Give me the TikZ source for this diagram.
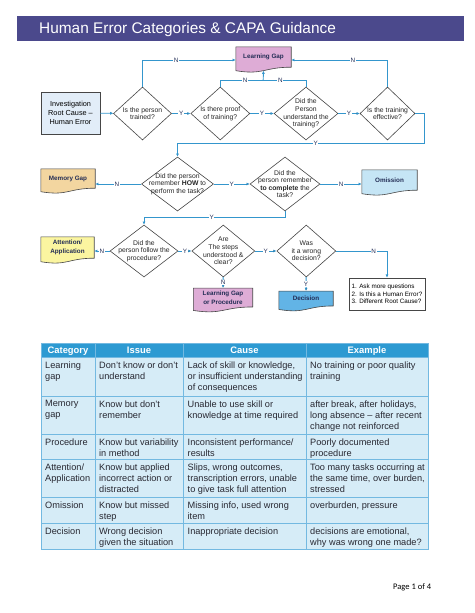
\documentclass[tikz,border=0pt]{standalone}
\usepackage{fontspec}
\setmainfont{Liberation Sans}
\newfontfamily\footfont{Carlito}
\usepackage{tikz}
\usetikzlibrary{arrows.meta,positioning,shapes.geometric,calc}
\pgfdeclarelayer{doclayer}
\pgfsetlayers{doclayer,main}
\definecolor{titlebar}{RGB}{75,73,140}
\definecolor{flowline}{RGB}{52,150,205}
\definecolor{lblnavy}{RGB}{35,45,85}
\definecolor{shapeline}{RGB}{70,70,70}
\definecolor{pinkdoc}{RGB}{222,172,214}
\definecolor{tandoc}{RGB}{243,214,160}
\definecolor{skydoc}{RGB}{197,229,245}
\definecolor{yellowdoc}{RGB}{251,245,160}
\definecolor{bluedoc}{RGB}{98,180,230}
\definecolor{invfill}{RGB}{226,237,248}
\definecolor{headblue}{RGB}{45,154,210}
\definecolor{cellblue}{RGB}{214,236,247}
\definecolor{gridblue}{RGB}{115,185,225}
\definecolor{tabtext}{RGB}{40,40,50}
\tikzstyle{dia}=[diamond,draw=shapeline,fill=white,line width=0.6pt,inner sep=0pt]
\tikzstyle{qtext}=[font=\fontsize{6.8}{7.6}\selectfont,align=center,text=black!85]
\tikzstyle{doc}=[inner sep=0pt,font=\bfseries\fontsize{6.3}{8.8}\selectfont,align=center,text=lblnavy]
\tikzstyle{yn}=[font=\fontsize{6.3}{7}\selectfont,text=lblnavy,fill=white,inner sep=0.6pt]
\tikzstyle{flow}=[draw=flowline,line width=0.9pt,>={Latex[length=3.2pt,width=3pt]}]
\tikzstyle{cell}=[anchor=north west,inner sep=0pt,align=left,text=tabtext,font=\fontsize{9.2}{11}\selectfont,execute at begin node={\rule{0pt}{7pt}}]
\newcommand{\docwave}[2]{%
  \draw[shapeline,line width=0.6pt,fill=#2] (#1.north west) -- (#1.north east) -- (#1.south east)
    .. controls (#1.south) and ([yshift=-8pt]#1.south) .. ([yshift=-3.5pt]#1.south west) -- cycle;}

\begin{document}
\begin{tikzpicture}[x=1pt,y=-1pt]
\useasboundingbox (0,0) rectangle (474,613);
\fill[titlebar] (17,16) rectangle (464,41);
\node[anchor=base west,inner sep=0pt,text=white,font=\fontsize{15.4}{18}\selectfont] (title) at (39,33.3) {Human Error Categories \& CAPA Guidance};

% row 1
\node[draw=shapeline,fill=invfill,line width=0.7pt,minimum width=59pt,minimum height=42pt,inner sep=0pt,align=center,font=\fontsize{7.3}{9}\selectfont] (inv) at (70.5,113) {Investigation\\Root Cause –\\Human Error};
\node[dia,minimum width=58pt,minimum height=53pt,label={[qtext]center:{Is the person\\trained?}}] (d1) at (142.5,113.5) {};
\node[dia,minimum width=59pt,minimum height=53pt,label={[qtext]center:{Is there proof\\of training?}}] (d2) at (220.3,113.5) {};
\node[dia,minimum width=64pt,minimum height=53pt,label={[qtext]center:{Did the\\Person\\understand the\\training?}}] (d3) at (306,113.5) {};
\node[dia,minimum width=55pt,minimum height=53pt,label={[qtext]center:{Is the training\\effective?}}] (d4) at (387.5,113.5) {};
\node[doc,minimum width=55pt,minimum height=20pt] (lgap) at (263.5,57) {Learning Gap};

% row 2
\node[dia,minimum width=72pt,minimum height=54pt,label={[qtext]center:{Did the person\\remember \textbf{HOW} to\\perform the task?}}] (d5) at (177.5,184) {};
\node[dia,minimum width=70pt,minimum height=54pt,label={[qtext]center:{Did the\\person remember\\\textbf{to complete} the\\task?}}] (d6) at (285,184) {};
\node[doc,minimum width=54pt,minimum height=19pt] (memgap) at (68,178.5) {Memory Gap};
\node[doc,minimum width=55pt,minimum height=20pt] (omis) at (389.5,180) {Omission};

% row 3
\node[dia,minimum width=68pt,minimum height=52pt,label={[qtext]center:{Did the\\person follow the\\procedure?}}] (d7) at (144,251) {};
\node[dia,minimum width=63pt,minimum height=52pt,label={[qtext]center:{Are\\The steps\\understood \&\\clear?}}] (d8) at (223.3,251) {};
\node[dia,minimum width=59pt,minimum height=52pt,label={[qtext]center:{Was\\it a wrong\\decision?}}] (d9) at (306.3,251) {};
\node[doc,minimum width=53pt,minimum height=21pt] (attn) at (67.5,247.5) {Attention/\\Application};
\node[doc,minimum width=59pt,minimum height=18.5pt] (lgap2) at (223,297.5) {Learning Gap\\or Procedure};
\node[doc,minimum width=54pt,minimum height=14.5pt] (decis) at (306,298.5) {Decision};
\node[draw=shapeline,fill=white,line width=0.7pt,minimum width=76pt,minimum height=32pt,inner sep=2pt,align=left,font=\fontsize{6.3}{7.5}\selectfont] (qbox) at (387,294) {1. Ask more questions\\2. Is this a Human Error?\\3. Different Root Cause?};

\begin{pgfonlayer}{doclayer}
\docwave{lgap}{pinkdoc}
\docwave{memgap}{tandoc}
\docwave{omis}{skydoc}
\docwave{attn}{yellowdoc}
\docwave{lgap2}{pinkdoc}
\docwave{decis}{bluedoc}
\end{pgfonlayer}

\path[flow,->]
(inv) edge (d1)
(d1) edge node[yn]{Y} (d2)
(d2) edge node[yn]{Y} (d3)
(d3) edge node[yn]{Y} (d4)
(d5) edge node[yn]{Y} (d6)
(d7) edge node[yn]{Y} (d8)
(d8) edge node[yn]{Y} (d9)
(d8) edge node[yn]{N} (lgap2)
(d9) edge node[yn]{Y} (decis);

\coordinate (jn) at ($(d2.north)!0.5!(d3.north)+(0,-6)$);
\draw[flow,->] (d1.north) |- ([yshift=-3pt]lgap.west) node[yn,pos=0.68]{N};
\draw[flow,->] (d4.north) |- ([yshift=-3pt]lgap.east) node[yn,pos=0.68]{N};
\draw[flow] (d2.north) |- (jn) node[yn,pos=0.79]{N} -| (d3.north) node[yn,pos=0.2]{N};
\draw[flow,->] (jn) -- ([yshift=-3.5pt]lgap.south);
\draw[flow,->] (d4.east) -- ++(9,0) |- ([yshift=13pt]d5.north) node[yn,pos=0.72]{Y} -- (d5.north);
\draw[flow,->] (d5.west) -- (d5.west -| memgap.east) node[yn,pos=0.53]{N};
\draw[flow,->] (d6.east) -- (d6.east -| omis.west) node[yn,pos=0.5]{N};
\draw[flow,->] (d6.south) -- ++(0,6) -| (d7.north) node[yn,pos=0.26]{Y};
\draw[flow,->] (d7.west) -- (d7.west -| attn.east) node[yn,pos=0.5]{N};
\draw[flow,->] (d9.east) -| (qbox.north) node[yn,pos=0.37]{N};

% table
\fill[headblue] (41,343) rectangle (428,357);
\fill[cellblue] (41,357) rectangle (428,549);
\foreach \r in {357,396,434,459,497,523}
  \draw[gridblue,line width=0.8pt] (41,\r) -- (428,\r);
\foreach \c in {95,183,306}
  \draw[gridblue,line width=0.8pt] (\c,343) -- (\c,549);
\draw[gridblue,line width=0.9pt] (41,343) rectangle (428,549);
\foreach \x/\t in {68/Category,139/Issue,244.5/Cause,367/Example}
  \node[anchor=base,font=\bfseries\fontsize{9.4}{11}\selectfont,text=white,inner sep=0pt] (h\t) at (\x,353.6) {\t};
\foreach \top/\a/\b/\c/\d in {
  357/{Learning\\gap}/{Don't know or don't\\understand}/{Lack of skill or knowledge,\\or insufficient understanding\\of consequences}/{No training or poor quality\\training},
  396/{Memory\\gap}/{Know but don't\\remember}/{Unable to use skill or\\knowledge at time required}/{after break, after holidays,\\long absence – after recent\\change not reinforced},
  434/{Procedure}/{Know but variability\\in method}/{Inconsistent performance/\\results}/{Poorly documented\\procedure},
  459/{Attention/\\Application}/{Know but applied\\incorrect action or\\distracted}/{Slips, wrong outcomes,\\transcription errors, unable\\to give task full attention}/{Too many tasks occurring at\\the same time, over burden,\\stressed},
  497/{Omission}/{Know but missed\\step}/{Missing info, used wrong\\item}/{overburden, pressure},
  523/{Decision}/{Wrong decision\\given the situation}/{Inappropriate decision}/{decisions are emotional,\\why was wrong one made?}}
{
  \node[cell] (ca\top) at (45,\top+4.3) {\a};
  \node[cell] (cb\top) at (99,\top+4.3) {\b};
  \node[cell] (cc\top) at (187.5,\top+4.3) {\c};
  \node[cell] (cd\top) at (310,\top+4.3) {\d};
}

\node[anchor=base west,inner sep=0pt,font=\footfont\fontsize{8.5}{10}\selectfont] (page) at (393,589) {Page 1 of 4};
\end{tikzpicture}
\end{document}
